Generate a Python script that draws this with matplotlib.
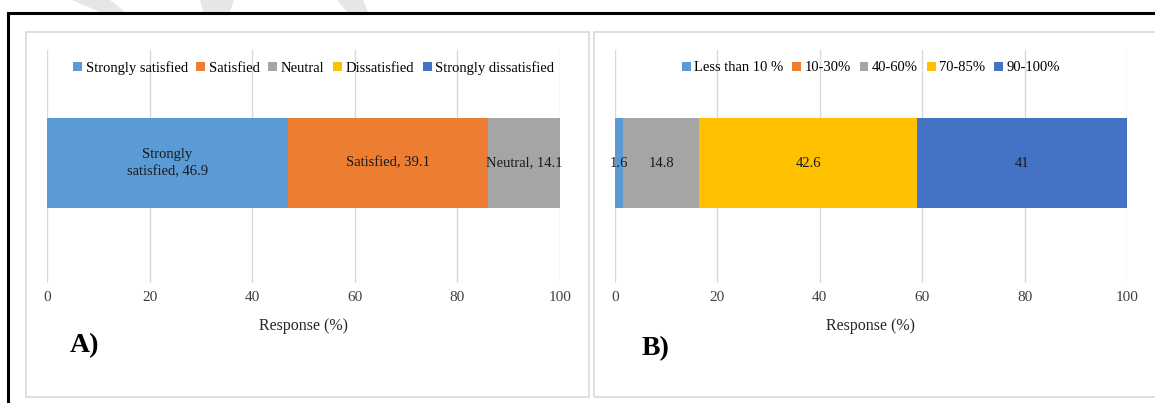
import numpy as np
import matplotlib
matplotlib.use("Agg")
import matplotlib.pyplot as plt
from matplotlib.patches import Rectangle, Polygon

plt.rcParams['font.family'] = ['Liberation Serif', 'DejaVu Serif']

# data
cats_a = ["Strongly satisfied", "Satisfied", "Neutral", "Dissatisfied", "Strongly dissatisfied"]
vals_a = [46.9, 39.1, 14.1, 0, 0]
lbls_a = ["Strongly\nsatisfied, 46.9", "Satisfied, 39.1", "Neutral, 14.1", "", ""]

cats_b = ["Less than 10 %", "10-30%", "40-60%", "70-85%", "90-100%"]
vals_b = [1.6, 0, 14.8, 42.6, 41]
lbls_b = ["1.6", "", "14.8", "42.6", "41"]

colors = ["#5B9BD5", "#ED7D31", "#A5A5A5", "#FFC000", "#4472C4"]
ticks = [0, 20, 40, 60, 80, 100]

W, H = 1155, 403
fig = plt.figure(figsize=(W/100, H/100), dpi=100)

def px(x0, y0, x1, y1):
    # pixel box (top-left origin) -> figure fraction rect
    return [x0/W, 1 - y1/H, (x1-x0)/W, (y1-y0)/H]

# faint watermark stripes at the top
for xs in [(72, 110, 125, 100), (200, 234, 230, 203), (337, 363, 368, 347)]:
    fig.patches.append(Polygon([(xs[0]/W, 1), (xs[1]/W, 1), (xs[2]/W, 1-12/H), (xs[3]/W, 1-12/H)],
                               closed=True, transform=fig.transFigure, facecolor="#E6E6E6",
                               edgecolor="none", zorder=0))

# outer black border (left and top)
fig.add_artist(plt.Line2D([8/W, 8/W], [0, 1-13/H], color="black", lw=2.2, transform=fig.transFigure))
fig.add_artist(plt.Line2D([8/W, 1], [1-13/H, 1-13/H], color="black", lw=2.2, transform=fig.transFigure))

# panel frames
for x0, x1 in [(26, 589), (594, 1175)]:
    r = px(x0, 32, x1, 397)
    fig.patches.append(Rectangle((r[0], r[1]), r[2], r[3], transform=fig.transFigure,
                                 facecolor="none", edgecolor="#D9D9D9", lw=1.2, zorder=1))


def panel(rect, cats, vals, lbls, leg_x, letter, letter_xy):
    ax = fig.add_axes(rect)
    left = 0
    for c, v, lb, col in zip(cats, vals, lbls, colors):
        ax.barh(0, v, left=left, height=0.386, color=col, label=c, zorder=2)
        if lb:
            ax.text(left + v/2, 0, lb, ha="center", va="center", fontsize=10.5,
                    color="#1a1a1a", linespacing=1.5, zorder=3)
        left += v
    ax.set_xlim(0, 100)
    ax.set_ylim(-0.515, 0.485)
    ax.set_xticks(ticks)
    ax.set_yticks([])
    ax.tick_params(axis="x", length=0, pad=6, labelsize=11, labelcolor="#404040")
    ax.grid(axis="x", color="#D9D9D9", lw=1, zorder=0)
    for s in ax.spines.values():
        s.set_visible(False)
    ax.set_xlabel("Response (%)", fontsize=11.5, color="#262626", labelpad=10)
    ax.legend(loc="center", bbox_to_anchor=(leg_x, 0.923), ncol=5, frameon=False,
              fontsize=10.5, handlelength=0.6, handleheight=0.6, handletextpad=0.25,
              columnspacing=0.6, borderpad=0)
    fig.text(letter_xy[0]/W, 1 - letter_xy[1]/H, letter, fontsize=20, fontweight="bold",
             ha="center", va="center")
    return ax

panel(px(47, 50, 560, 283), cats_a, vals_a, lbls_a, 0.52, "A)", (85, 346))
panel(px(615, 50, 1127, 283), cats_b, vals_b, lbls_b, 0.5, "B)", (655, 349))

fig.savefig("out.png", dpi=100)
